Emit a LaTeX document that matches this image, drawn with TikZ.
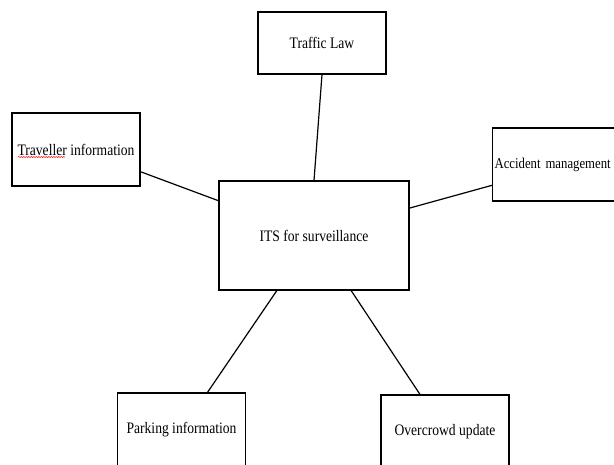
\documentclass[tikz,border=0pt]{standalone}
\usepackage{fontspec}
\setmainfont{Liberation Serif}[FakeStretch=0.85]
\usetikzlibrary{decorations.pathmorphing}
\tikzset{topic/.style={draw, line width=1.1pt, fill=white, minimum width=128pt, minimum height=73pt, inner sep=2pt, font=\fontsize{16}{18}\selectfont}}
\newcommand{\topicnode}[4]{\node[topic] (#1) at ( #2 , #3 ) {#4};}

\begin{document}
\begin{tikzpicture}[x=1pt,y=-1pt]
        \useasboundingbox (0,0) rectangle (614,464);
        \clip (0,0) rectangle (614,464);

        % centre
        \node[topic, minimum width=190pt, minimum height=109pt] (its) at (314,235.5) {ITS for surveillance};

        % around
        \node[topic, minimum height=62pt] (law) at (322,43) {Traffic Law};
        \topicnode{traveller}{76}{149.5}{Traveller information}
        \node[topic, anchor=west, font=\fontsize{15}{17}\selectfont, text width=140pt, align=left] (accident) at (492,164.5) {Accident management};
        \topicnode{parking}{181.5}{429.5}{Parking information}
        \topicnode{overcrowd}{445}{431.5}{Overcrowd update}

        % spelling mark
        \draw[red, line width=0.5pt, decorate, decoration={snake, amplitude=0.6pt, segment length=2.5pt}]
            ([xshift=-58pt,yshift=-7.5pt]traveller.center) -- ([xshift=-11pt,yshift=-7.5pt]traveller.center);

        % links
        \draw[line width=1.2pt] (law.south) -- (its.north);
        \draw[line width=1.2pt] (traveller.-19) -- (its.160);
        \draw[line width=1.2pt] (accident.196) -- (its.16);
        \draw[line width=1.2pt] (parking.55) -- (its.236);
        \draw[line width=1.2pt] (overcrowd.124) -- (its.-56);

    \end{tikzpicture}
\end{document}
